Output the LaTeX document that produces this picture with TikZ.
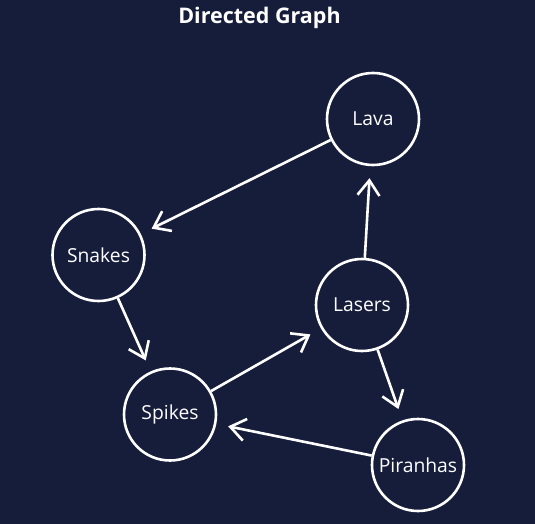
\documentclass[tikz,border=0pt]{standalone}
\usepackage{fontspec}
\setmainfont{Open Sans}
\usetikzlibrary{arrows.meta}
\definecolor{bgnavy}{RGB}{22,29,59}
\tikzset{
  vertex/.style={circle, draw=white, line width=2.6pt, fill=bgnavy, minimum size=92pt, inner sep=0pt, text=white, font=\fontsize{19.3}{22}\selectfont},
  edge/.style={draw=white, line width=2.6pt, shorten >=12pt, -{Straight Barb[length=15pt,width=22pt]}}
}
\begin{document}
\begin{tikzpicture}[x=1pt,y=-1pt]
\useasboundingbox (0,0) rectangle (535,524);
\fill[bgnavy] (0,0) rectangle (535,524);
\node[text=white, font=\fontsize{21.5}{24}\selectfont\bfseries] (title) at (259.5,18) {Directed Graph};
\node[vertex] (lava) at (373,119) {Lava};
\node[vertex] (snakes) at (98.5,255) {Snakes};
\node[vertex] (lasers) at (362,305) {Lasers};
\node[vertex] (spikes) at (170,414.5) {Spikes};
\node[vertex] (piranhas) at (418,465) {Piranhas};
\draw[edge] (lava) -- (snakes);
\draw[edge] (snakes) -- (spikes);
\draw[edge] (spikes) -- (lasers);
\draw[edge] (lasers) -- (lava);
\draw[edge] (lasers) -- (piranhas);
\draw[edge] (piranhas) -- (spikes);
\end{tikzpicture}
\end{document}
